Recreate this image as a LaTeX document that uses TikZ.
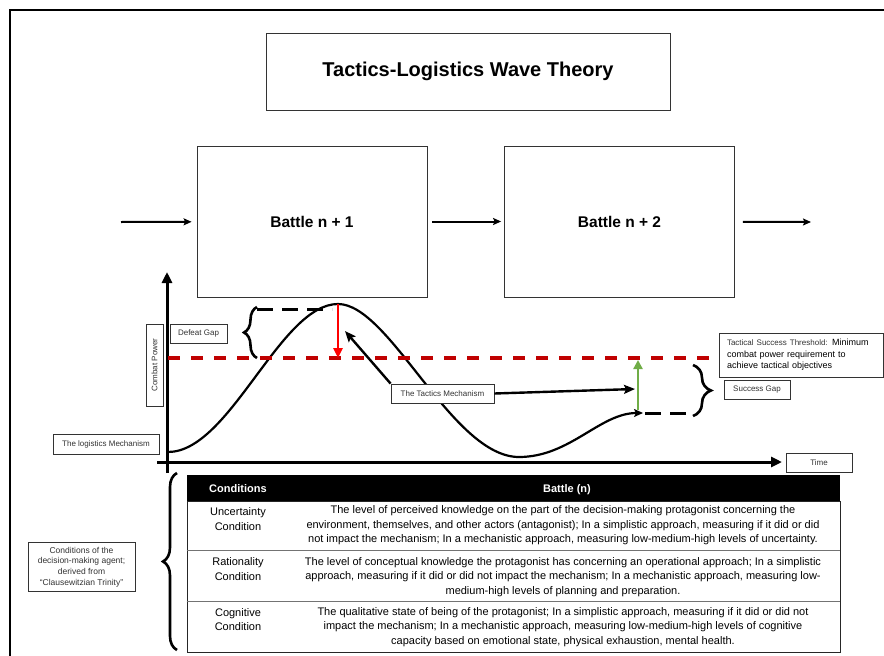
\documentclass[tikz,border=0pt]{standalone}
\usepackage{fontspec}
\setmainfont{Liberation Sans}
\usetikzlibrary{arrows.meta,decorations.pathreplacing}
\definecolor{thrred}{HTML}{C00000}
\definecolor{okgreen}{HTML}{70AD47}
\begin{document}
\begin{tikzpicture}[x=1pt,y=-1pt,
  box/.style={draw=black!80,line width=0.8pt,fill=white,inner sep=0pt,align=center},
  lbl/.style={box,font=\fontsize{8}{9.5}\selectfont,text=black!80},
  battle/.style={box,minimum width=230pt,minimum height=151pt,font=\bfseries\fontsize{15.5}{18}\selectfont},
  flow/.style={line width=2pt,-{Stealth[length=8pt,width=7pt,inset=1.5pt]}},
  axis/.style={line width=3pt,-{Triangle[length=11pt,width=10pt]}},
  wave/.style={line width=2.2pt,-{Stealth[length=9pt,width=8pt,inset=2pt]}},
  tactarrow/.style={line width=2.4pt,-{Stealth[length=11pt,width=9pt,inset=2pt]}},
  threshold/.style={line width=4pt,thrred,dash pattern=on 12pt off 11pt},
  gapdash/.style={line width=3pt,dash pattern=on 16pt off 9pt},
  curlyl/.style={line width=2.6pt,decorate,decoration={brace,amplitude=#1}},
  cellA/.style={align=center,inner sep=0pt,font=\fontsize{11}{14.5}\selectfont},
  cellB/.style={align=center,inner sep=0pt,font=\fontsize{11}{14.5}\selectfont},
  headtxt/.style={inner sep=0pt,text=white,font=\bfseries\fontsize{11}{13}\selectfont},
  rowbox/.style={draw=black!85,line width=0.8pt,inner sep=0pt,minimum width=653pt}
]
\useasboundingbox (0,0) rectangle (884,656);
% outer frame
\draw[line width=2pt] (10,656) -- (10,10) -- (884,10);

% coordinates of the graph
\coordinate (c0) at (168,452);
\coordinate (peak) at (338,304);
\coordinate (trough) at (519,457);
\coordinate (cend) at (643,413);
\coordinate (r0) at (168,358);
\coordinate (d0) at (257,309);
\coordinate (d1) at (332,309);
\coordinate (s0) at (645,413);
\coordinate (s1) at (693,413);

% gap dashes and the wave
\draw[gapdash] (d0) -- (d1);
\draw[gapdash] (s0) -- (s1);
\draw[wave] (c0) .. controls (230,452) and (280,304) .. (peak)
  .. controls (390,304) and (452,457) .. (trough)
  .. controls (570,457) and (600,413) .. (cend);

% title and battles
\node[box,minimum width=404pt,minimum height=77pt,font=\bfseries\fontsize{20}{24}\selectfont] (title) at (468,71.5) {Tactics-Logistics Wave Theory};
\node[battle] (b1) at (312,221.5) {Battle n + 1};
\node[battle] (b2) at (619.5,221.5) {Battle n + 2};
\coordinate (a0) at (121,222);
\coordinate (a3) at (811,222);
\draw[flow,shorten >=5pt] (a0) -- (b1);
\draw[flow,shorten <=5pt,shorten >=3pt] (b1) -- (b2);
\draw[flow,shorten <=8pt] (b2) -- (a3);

% axes
\coordinate (ybot) at (167,473);
\coordinate (ytop) at (167,272);
\coordinate (xleft) at (157,462);
\coordinate (xright) at (782,462);
\draw[axis] (ybot) -- (ytop);
\draw[axis] (xleft) -- (xright);

% labels
\node[lbl,rotate=90,minimum width=82pt,minimum height=17pt] (cp) at (154.5,365) {Combat Power};
\node[lbl,minimum width=57pt,minimum height=19pt] (dg) at (198.5,333.5) {Defeat Gap};
\node[lbl,minimum width=106pt,minimum height=20pt] (lm) at (106,444) {The logistics Mechanism};
\node[lbl,minimum width=103pt,minimum height=19pt] (tm) at (442.5,393.5) {The Tactics Mechanism};
\node[lbl,minimum width=66pt,minimum height=19pt] (sg) at (757,389.5) {Success Gap};
\node[lbl,minimum width=66pt,minimum height=19pt] (time) at (819,462.5) {Time};
\node[box,align=left,text width=148pt,inner xsep=8pt,minimum height=44pt,font=\fontsize{9}{11.5}\selectfont] (tst) at (801,355)
  {\mbox{{\fontsize{8}{11.5}\selectfont\color{black!80}Tactical Success Threshold:} Minimum}\\combat power requirement to\\achieve tactical objectives};
\node[lbl,minimum width=107pt,minimum height=49pt,font=\fontsize{8.5}{10.7}\selectfont] (cond) at (81.5,567)
  {Conditions of the\\decision-making agent;\\derived from\\“Clausewitzian Trinity”};

% threshold and gap arrows
\draw[threshold] (r0) -- (tst.west |- r0);
\draw[line width=2.5pt,red,-{Triangle[length=10pt,width=9pt]}] (peak) -- (peak |- r0);
\coordinate (g0) at (638,410);
\draw[line width=2.5pt,okgreen,-{Triangle[length=9pt,width=9pt]},shorten >=2pt] (g0) -- (g0 |- r0);
\coordinate (tmA) at (345,331);
\coordinate (tmB) at (635,389);
\draw[tactarrow] (tm.north west) -- (tmA);
\draw[tactarrow] (tm.east) -- (tmB);

% braces
\draw[curlyl=13pt] (257,358) -- (257,307);
\draw[curlyl=18pt] (693,365) -- (693,416);
\draw[curlyl=14pt] (177,650) -- (177,473);

% table
\node[fill=black,minimum width=653pt,minimum height=26pt,inner sep=0pt] (thead) at (513.5,488) {};
\node[headtxt,anchor=base west] (hc) at (209,492) {Conditions};
\node[headtxt,anchor=base] (hb) at (567,492) {Battle (n)};
\node[rowbox,minimum height=49pt] (row1) at (513.5,525.5) {};
\node[rowbox,minimum height=51pt] (row2) at (513.5,575.5) {};
\node[rowbox,minimum height=51pt] (row3) at (513.5,626.5) {};
\draw[line width=1.6pt,black!55] (row1.south west) -- (row1.south east);
\draw[line width=1.6pt,black!55] (row2.south west) -- (row2.south east);
\node[cellA] (u1) at (238,519) {Uncertainty\\Condition};
\node[cellA] (u2) at (238,569) {Rationality\\Condition};
\node[cellA] (u3) at (238,619.5) {Cognitive\\Condition};
\node[cellB] (t1) at (563,525.5) {The level of perceived knowledge on the part of the decision-making protagonist concerning the\\environment, themselves, and other actors (antagonist); In a simplistic approach, measuring if it did or did\\not impact the mechanism; In a mechanistic approach, measuring low-medium-high levels of uncertainty.};
\node[cellB] (t2) at (563,577) {The level of conceptual knowledge the protagonist has concerning an operational approach; In a simplistic\\approach, measuring if it did or did not impact the mechanism; In a mechanistic approach, measuring low-\\medium-high levels of planning and preparation.};
\node[cellB] (t3) at (563,627) {The qualitative state of being of the protagonist; In a simplistic approach, measuring if it did or did not\\impact the mechanism; In a mechanistic approach, measuring low-medium-high levels of cognitive\\capacity based on emotional state, physical exhaustion, mental health.};
\end{tikzpicture}
\end{document}
